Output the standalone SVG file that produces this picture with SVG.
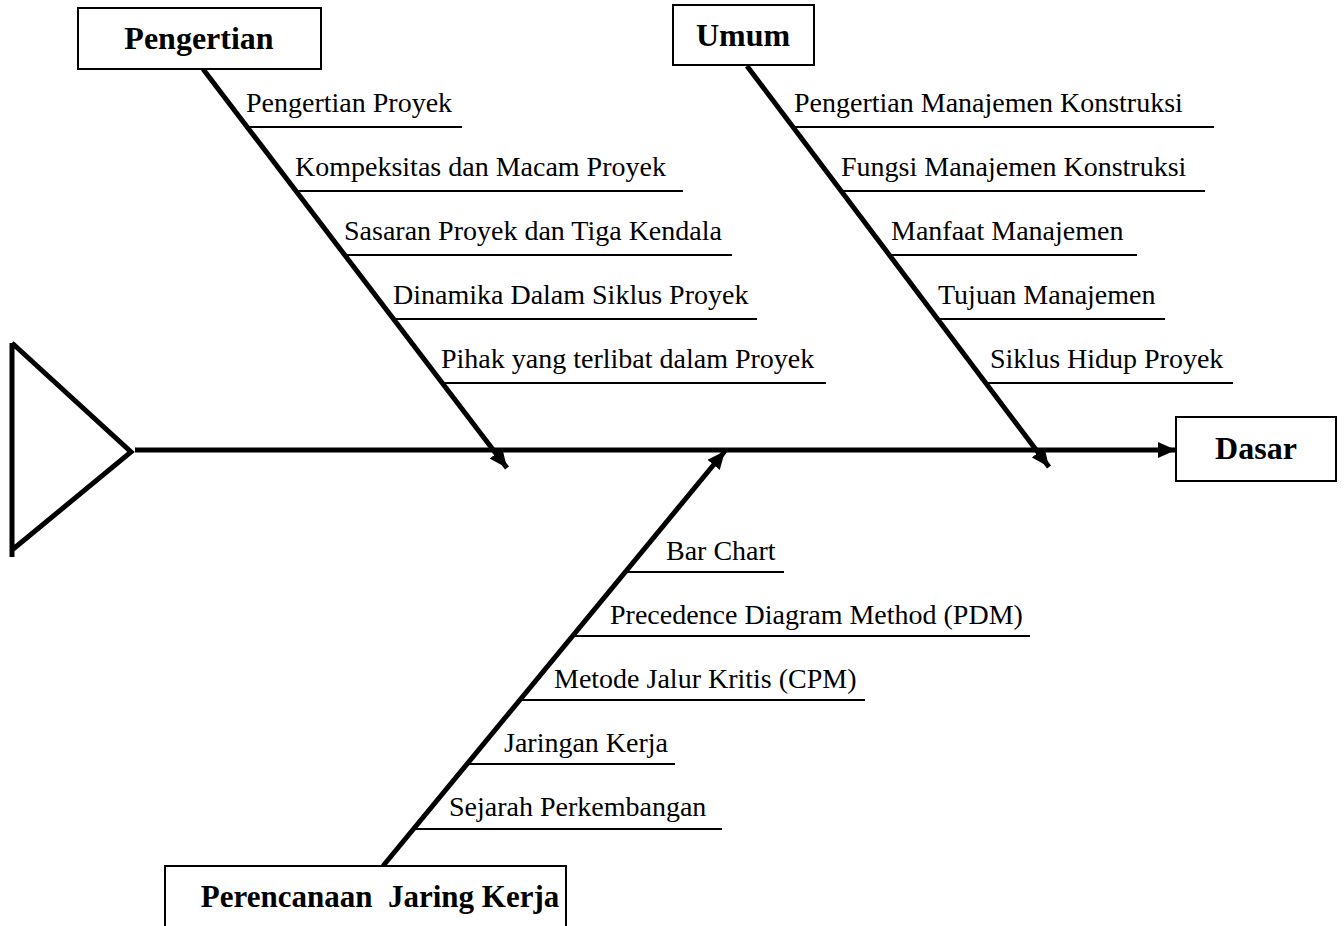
<svg xmlns="http://www.w3.org/2000/svg" width="1344" height="926" viewBox="0 0 1344 926">
<style>
.box{fill:#fff;stroke:#000;stroke-width:2}
.head{font-family:"Liberation Serif","Times New Roman",serif;font-weight:bold;font-size:32px;fill:#000;text-anchor:middle}
.lbl{font-family:"Liberation Serif","Times New Roman",serif;font-size:28px;fill:#000}
.rib{stroke:#000;stroke-width:2;fill:none}
.spine{stroke:#000;stroke-width:5;fill:none}
</style>
<defs>
<marker id="ah" markerUnits="userSpaceOnUse" markerWidth="20" markerHeight="16" refX="18" refY="8" orient="auto">
<path d="M0,0 L18,8 L0,16 Z" fill="#000"/>
</marker>
</defs>
<rect width="1344" height="926" fill="#fff"/>
<g id="head-shape">
<path d="M12,343 L12,557 M12,343 L131,452 L12,550" stroke="#000" stroke-width="5" fill="none" stroke-linejoin="miter"/>
</g>
<g id="connectors">
<line class="spine" x1="135" y1="450" x2="1176" y2="450" stroke-width="4" marker-end="url(#ah)"/>
<line class="spine" x1="203" y1="69" x2="507" y2="468" marker-end="url(#ah)"/>
<line class="spine" x1="747" y1="66" x2="1049" y2="467" marker-end="url(#ah)"/>
<line class="spine" x1="383" y1="866" x2="725" y2="451" marker-end="url(#ah)"/>
<line class="rib" x1="248" y1="127" x2="462" y2="127"/>
<line class="rib" x1="297" y1="191" x2="683" y2="191"/>
<line class="rib" x1="346" y1="255" x2="732" y2="255"/>
<line class="rib" x1="396" y1="319" x2="757" y2="319"/>
<line class="rib" x1="445" y1="383" x2="826" y2="383"/>
<line class="rib" x1="793" y1="127" x2="1214" y2="127"/>
<line class="rib" x1="841" y1="191" x2="1205" y2="191"/>
<line class="rib" x1="889" y1="255" x2="1137" y2="255"/>
<line class="rib" x1="938" y1="319" x2="1165" y2="319"/>
<line class="rib" x1="986" y1="383" x2="1233" y2="383"/>
<line class="rib" x1="625" y1="572" x2="784" y2="572"/>
<line class="rib" x1="573" y1="636" x2="1030" y2="636"/>
<line class="rib" x1="520" y1="700" x2="865" y2="700"/>
<line class="rib" x1="467" y1="764" x2="675" y2="764"/>
<line class="rib" x1="413" y1="829" x2="722" y2="829"/>
</g>
<g id="pengertian">
<rect class="box" x="78" y="8" width="243" height="61"/>
<text class="head" x="199" y="49">Pengertian</text>
<text class="lbl" x="246" y="112">Pengertian Proyek</text>
<text class="lbl" x="295" y="176">Kompeksitas dan Macam Proyek</text>
<text class="lbl" x="344" y="240">Sasaran Proyek dan Tiga Kendala</text>
<text class="lbl" x="393" y="304">Dinamika Dalam Siklus Proyek</text>
<text class="lbl" x="441" y="368">Pihak yang terlibat dalam Proyek</text>
</g>
<g id="umum">
<rect class="box" x="673" y="5" width="141" height="60"/>
<text class="head" x="743" y="46">Umum</text>
<text class="lbl" x="794" y="112">Pengertian Manajemen Konstruksi</text>
<text class="lbl" x="841" y="176">Fungsi Manajemen Konstruksi</text>
<text class="lbl" x="891" y="240">Manfaat Manajemen</text>
<text class="lbl" x="938" y="304">Tujuan Manajemen</text>
<text class="lbl" x="990" y="368">Siklus Hidup Proyek</text>
</g>
<g id="dasar">
<rect class="box" x="1176" y="417" width="160" height="64"/>
<text class="head" x="1256" y="459">Dasar</text>
</g>
<g id="perencanaan">
<rect class="box" x="165" y="866" width="401" height="80"/>
<text class="head" x="380" y="907" style="font-size:31px" xml:space="preserve">Perencanaan  Jaring Kerja</text>
<text class="lbl" x="666" y="560">Bar Chart</text>
<text class="lbl" x="610" y="624">Precedence Diagram Method (PDM)</text>
<text class="lbl" x="554" y="688">Metode Jalur Kritis (CPM)</text>
<text class="lbl" x="504" y="752">Jaringan Kerja</text>
<text class="lbl" x="449" y="816">Sejarah Perkembangan</text>
</g>
</svg>
